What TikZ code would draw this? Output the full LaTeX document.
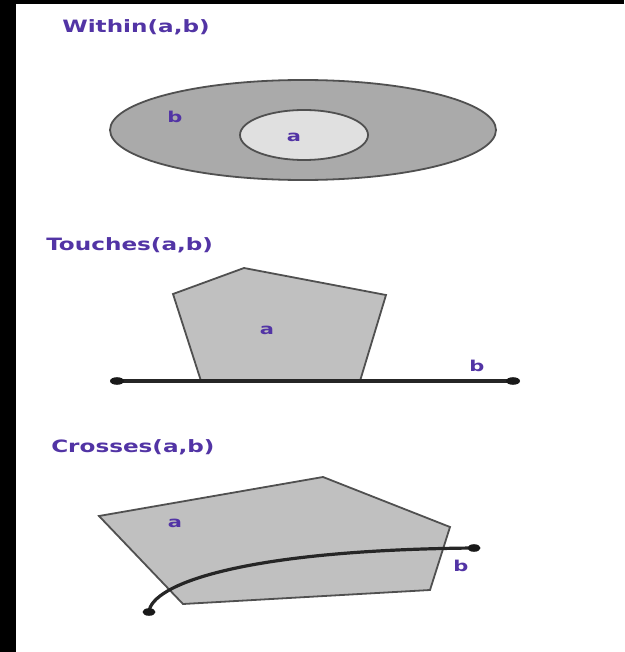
\documentclass[tikz,border=0pt]{standalone}
\usepackage{fontspec}
\setmainfont{DejaVu Sans}
\definecolor{txtc}{RGB}{82,52,165}
\definecolor{edgec}{RGB}{80,80,80}
\definecolor{outerfill}{RGB}{170,170,170}
\definecolor{innerfill}{RGB}{224,224,224}
\definecolor{polyfill}{RGB}{192,192,192}
\begin{document}
\begin{tikzpicture}[x=1pt,y=-1pt,
  title/.style={text=txtc, font=\bfseries\fontsize{17}{19}\selectfont, inner sep=0pt, xscale=1.36, anchor=base west},
  lbl/.style={text=txtc, font=\bfseries\fontsize{15}{17}\selectfont, inner sep=0pt, xscale=1.4},
  shapeedge/.style={draw=edgec, line width=1.8pt},
  geomline/.style={draw=black!85, line width=3.2pt},
  enddot/.style={fill=black!90, draw=none}]
\useasboundingbox (0,0) rectangle (624,652);
\fill[black] (0,0) rectangle (624,652);
\fill[white] (16,4) rectangle (624,652);

% Within
\node[title] (t1) at (62,33) {Within(a,b)};
\filldraw[shapeedge, fill=outerfill] (303,130) ellipse [x radius=193, y radius=50];
\filldraw[shapeedge, fill=innerfill] (304,135) ellipse [x radius=64, y radius=25];
\node[lbl] (w-b) at (175,117) {b};
\node[lbl] (w-a) at (294,137) {a};

% Touches
\node[title] (t2) at (46,250) {Touches(a,b)};
\filldraw[shapeedge, fill=polyfill] (173,294) -- (244,268) -- (386,295) -- (360,381) -- (201,381) -- cycle;
\coordinate (l1) at (117,381);
\coordinate (l2) at (513,381);
\draw[geomline] (l1) -- (l2);
\fill[enddot] (l1) ellipse [x radius=7, y radius=3.8];
\fill[enddot] (l2) ellipse [x radius=7, y radius=3.8];
\node[lbl] (t-a) at (267,330) {a};
\node[lbl] (t-b) at (477,366) {b};

% Crosses
\node[title] (t3) at (51,452) {Crosses(a,b)};
\filldraw[shapeedge, fill=polyfill] (99,516) -- (323,477) -- (450,527) -- (430,590) -- (183,604) -- cycle;
\coordinate (c1) at (149,612);
\coordinate (c2) at (474,548);
\draw[geomline] (c1) .. controls (151,585) and (240,550) .. (c2);
\fill[enddot] (c1) ellipse [x radius=6.5, y radius=3.8];
\fill[enddot] (c2) ellipse [x radius=6.5, y radius=3.8];
\node[lbl] (c-a) at (175,523) {a};
\node[lbl] (c-b) at (461,566) {b};
\end{tikzpicture}
\end{document}
